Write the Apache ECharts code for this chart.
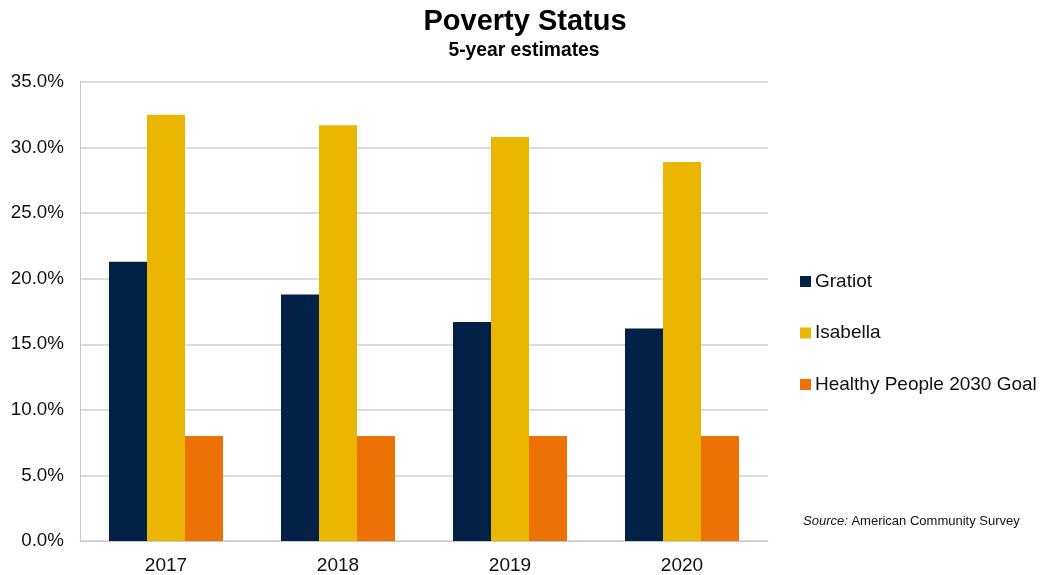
<!DOCTYPE html>
<html>
<head>
<meta charset="utf-8">
<script src="https://cdn.jsdelivr.net/npm/echarts@6/dist/echarts.min.js"></script>
<style>html,body{margin:0;padding:0;background:#fff;}#c{width:1044px;height:575px;}</style>
</head>
<body>
<div id="c"></div>
<script>
const categories = ['2017', '2018', '2019', '2020'];
const gratiot = [21.3, 18.8, 16.7, 16.2];
const isabella = [32.5, 31.7, 30.8, 28.9];
const goal = [8.0, 8.0, 8.0, 8.0];
const seriesNames = ['Gratiot', 'Isabella', 'Healthy People 2030 Goal'];
const colors = ['#012146', '#EAB600', '#EC7206'];

const chart = echarts.init(document.getElementById('c'));
const font = 'Liberation Sans, Arial, sans-serif';
chart.setOption({
  animation: false,
  textStyle: { fontFamily: font },
  legend: {
    orient: 'vertical', left: 800, top: 272, padding: 0,
    itemWidth: 11, itemHeight: 11, itemGap: 32.5,
    icon: 'rect',
    textStyle: { fontSize: 19, color: '#111', fontFamily: font, padding: [0, 0, 0, -1] },
    data: seriesNames
  },
  grid: { left: 80, right: 276, top: 82, bottom: 33 },
  xAxis: {
    type: 'category', data: categories,
    axisLine: { lineStyle: { color: '#c8c8c8', width: 1 } },
    axisTick: { show: false },
    axisLabel: { fontSize: 19, color: '#111', margin: 15, fontFamily: font }
  },
  yAxis: {
    type: 'value', min: 0, max: 35, interval: 5,
    axisLine: { show: true, lineStyle: { color: '#c8c8c8' } },
    axisTick: { show: false },
    splitLine: { lineStyle: { color: '#d0d0d0', width: 1.5 } },
    axisLabel: { fontSize: 18.8, color: '#111', margin: 16, fontFamily: font,
      formatter: v => v.toFixed(1) + '%' }
  },
  series: [
    { name: seriesNames[0], type: 'bar', data: gratiot, itemStyle: { color: colors[0] }, barGap: '0%', barCategoryGap: '33.7%' },
    { name: seriesNames[1], type: 'bar', data: isabella, itemStyle: { color: colors[1] }, barGap: '0%', barCategoryGap: '33.7%' },
    { name: seriesNames[2], type: 'bar', data: goal, itemStyle: { color: colors[2] }, barGap: '0%', barCategoryGap: '33.7%' }
  ],
  graphic: [
    {
      type: 'text', x: 525, y: 22,
      style: { text: 'Poverty Status', fontSize: 29, fontWeight: 'bold', fill: '#000', fontFamily: font,
        align: 'center', verticalAlign: 'middle' }
    },
    {
      type: 'text', x: 524, y: 51,
      style: { text: '5-year estimates', fontSize: 19.3, fontWeight: 'bold', fill: '#000', fontFamily: font,
        align: 'center', verticalAlign: 'middle' }
    },
    {
      type: 'text', left: 803, top: 515,
      style: {
        text: '{i|Source:} American Community Survey',
        fontSize: 13, fill: '#111', fontFamily: 'Liberation Sans Narrow, Liberation Sans, Arial',
        rich: { i: { fontStyle: 'italic', fontSize: 13, fontFamily: 'Liberation Sans Narrow, Liberation Sans, Arial' } }
      }
    }
  ]
});
</script>
</body>
</html>
